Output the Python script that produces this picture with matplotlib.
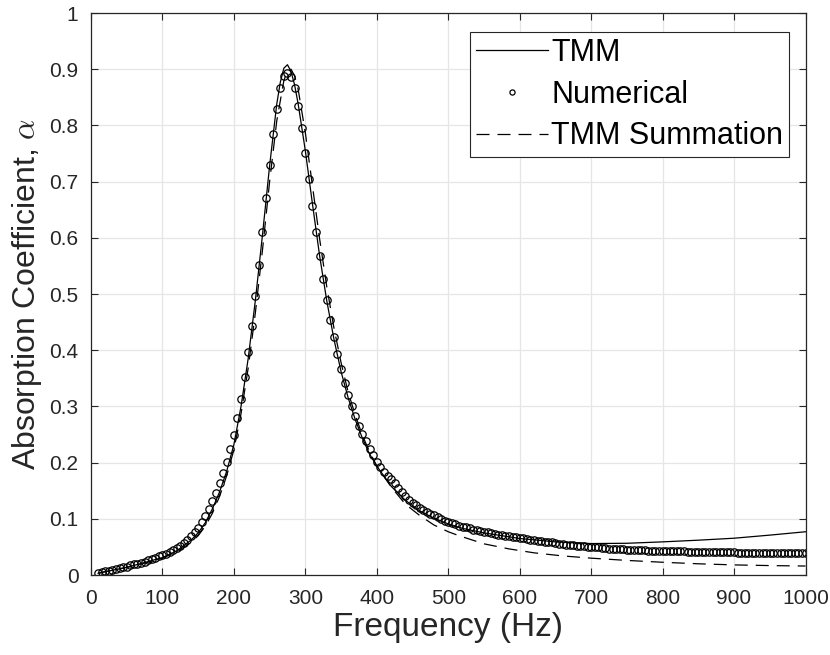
import numpy as np
import matplotlib
matplotlib.use("Agg")
import matplotlib.pyplot as plt

# --- data ---
# Numerical: sampled every 5 Hz from 10 to 1000 Hz
freq_num = np.arange(10, 1001, 5)
alpha_num = [
    0.004, 0.005, 0.007, 0.008, 0.009, 0.011, 0.012, 0.014, 0.015, 0.017,
    0.019, 0.020, 0.022, 0.024, 0.026, 0.028, 0.030, 0.033,
    # 100-195
    0.035, 0.038, 0.041, 0.044, 0.048, 0.052, 0.057, 0.063, 0.069, 0.076,
    0.084, 0.094, 0.105, 0.117, 0.131, 0.146, 0.163, 0.181, 0.201, 0.224,
    # 200-295
    0.250, 0.280, 0.314, 0.352, 0.396, 0.443, 0.496, 0.552, 0.611, 0.671,
    0.729, 0.784, 0.830, 0.866, 0.888, 0.893, 0.887, 0.866, 0.834, 0.795,
    # 300-395
    0.751, 0.704, 0.657, 0.611, 0.567, 0.527, 0.490, 0.454, 0.423, 0.393,
    0.366, 0.342, 0.320, 0.300, 0.283, 0.266, 0.251, 0.238, 0.225, 0.213,
    # 400-495
    0.202, 0.193, 0.184, 0.177, 0.170, 0.163, 0.155, 0.147, 0.140, 0.134,
    0.129, 0.124, 0.120, 0.116, 0.112, 0.109, 0.106, 0.103, 0.100, 0.097,
    # 500-595
    0.095, 0.093, 0.090, 0.088, 0.086, 0.085, 0.083, 0.081, 0.080, 0.078,
    0.077, 0.076, 0.074, 0.073, 0.072, 0.071, 0.070, 0.069, 0.068, 0.067,
    # 600-695
    0.066, 0.065, 0.064, 0.063, 0.062, 0.061, 0.060, 0.059, 0.058, 0.058,
    0.057, 0.056, 0.055, 0.054, 0.054, 0.053, 0.052, 0.052, 0.051, 0.050,
    # 700-795
    0.050, 0.049, 0.049, 0.048, 0.048, 0.047, 0.047, 0.046, 0.046, 0.046,
    0.045, 0.045, 0.045, 0.044, 0.044, 0.044, 0.043, 0.043, 0.043, 0.043,
    # 800-895
    0.042, 0.042, 0.042, 0.042, 0.042, 0.042, 0.042, 0.041, 0.041, 0.041,
    0.041, 0.041, 0.041, 0.041, 0.041, 0.041, 0.041, 0.041, 0.041, 0.041,
    # 900-1000
    0.041, 0.040, 0.040, 0.040, 0.040, 0.040, 0.040, 0.040, 0.040, 0.040,
    0.040, 0.040, 0.040, 0.040, 0.040, 0.040, 0.040, 0.040, 0.040, 0.040,
    0.040,
]

# TMM (solid)
freq_tmm = [10, 20, 40, 60, 80, 100, 120, 140, 150, 160, 170, 180, 190, 200,
            210, 220, 230, 240, 250, 260, 265, 270, 275, 280, 285, 290, 300,
            310, 320, 330, 340, 350, 360, 370, 380, 390, 400, 420, 440, 460,
            480, 500, 520, 550, 600, 650, 700, 750, 800, 850, 900, 950, 1000]
alpha_tmm = [0.003, 0.006, 0.011, 0.017, 0.024, 0.031, 0.043, 0.062, 0.075,
             0.093, 0.118, 0.148, 0.185, 0.232, 0.300, 0.385, 0.488, 0.605,
             0.728, 0.838, 0.877, 0.902, 0.908, 0.896, 0.872, 0.838, 0.755,
             0.660, 0.568, 0.488, 0.420, 0.362, 0.315, 0.276, 0.243, 0.215,
             0.194, 0.158, 0.133, 0.114, 0.101, 0.091, 0.083, 0.075, 0.065,
             0.059, 0.056, 0.0565, 0.059, 0.062, 0.0655, 0.071, 0.077]

# TMM Summation (dashed)
freq_sum = [10, 20, 40, 60, 80, 100, 120, 140, 150, 160, 170, 180, 190, 200,
            210, 220, 230, 240, 250, 260, 270, 275, 280, 285, 290, 300, 310,
            320, 330, 340, 350, 360, 370, 380, 390, 400, 420, 440, 450, 460,
            480, 500, 515, 550, 585, 620, 660, 700, 750, 800, 850, 900, 950,
            1000]
alpha_sum = [0.003, 0.006, 0.011, 0.016, 0.023, 0.030, 0.041, 0.058, 0.070,
             0.087, 0.110, 0.140, 0.177, 0.223, 0.287, 0.368, 0.466, 0.578,
             0.700, 0.808, 0.880, 0.897, 0.900, 0.888, 0.864, 0.787, 0.692,
             0.598, 0.513, 0.440, 0.378, 0.325, 0.284, 0.248, 0.219, 0.194,
             0.157, 0.126, 0.116, 0.106, 0.089, 0.077, 0.070, 0.0555, 0.0465,
             0.0395, 0.034, 0.030, 0.026, 0.0227, 0.020, 0.018, 0.0168, 0.016]

plt.rcParams['font.family'] = ['Liberation Sans', 'DejaVu Sans']
plt.rcParams['mathtext.fontset'] = 'cm'

fig = plt.figure(figsize=(8.3, 6.55), dpi=100)
ax = fig.add_axes([0.1096, 0.1221, 0.8609, 0.858])

dark = '#262626'
ax.plot(freq_tmm, alpha_tmm, color='black', lw=0.9, label='TMM')
ax.plot(freq_num, alpha_num, linestyle='none', marker='o', markersize=5.3,
        markerfacecolor='none', markeredgecolor='black', markeredgewidth=0.9,
        label='Numerical')
ax.plot(freq_sum, alpha_sum, color='black', lw=0.9, dashes=(10.4, 6.4),
        label='TMM Summation')

ax.set_xlim(0, 1000)
ax.set_ylim(0, 1)
ax.set_xticks(np.arange(0, 1001, 100))
ax.set_yticks(np.arange(0, 1.01, 0.1))
ax.set_yticklabels(['0', '0.1', '0.2', '0.3', '0.4', '0.5', '0.6', '0.7',
                    '0.8', '0.9', '1'])
ax.grid(True, color='#e6e6e6', lw=0.9)
ax.set_axisbelow(True)
ax.tick_params(direction='in', length=5, width=0.8, top=True, right=True,
               labelsize=15, colors=dark)
ax.tick_params(axis='x', pad=10)
ax.tick_params(axis='y', pad=9)
for s in ax.spines.values():
    s.set_color(dark)
    s.set_linewidth(0.9)

ax.set_xlabel('Frequency (Hz)', fontsize=24, color=dark, labelpad=3)
ax.set_ylabel(r'Absorption Coefficient, $\alpha$', fontsize=23, color=dark,
              labelpad=4)

leg = ax.legend(loc='upper right', fontsize=22, frameon=True, fancybox=False,
                handlelength=2.35, handletextpad=0.1, borderpad=0.2,
                labelspacing=0.38, borderaxespad=0.0, markerscale=0.7,
                bbox_to_anchor=(0.9775, 0.9665))
leg.get_frame().set_edgecolor(dark)
leg.get_frame().set_linewidth(0.8)
leg.get_frame().set_alpha(1)

fig.savefig('out.png', dpi=100)
